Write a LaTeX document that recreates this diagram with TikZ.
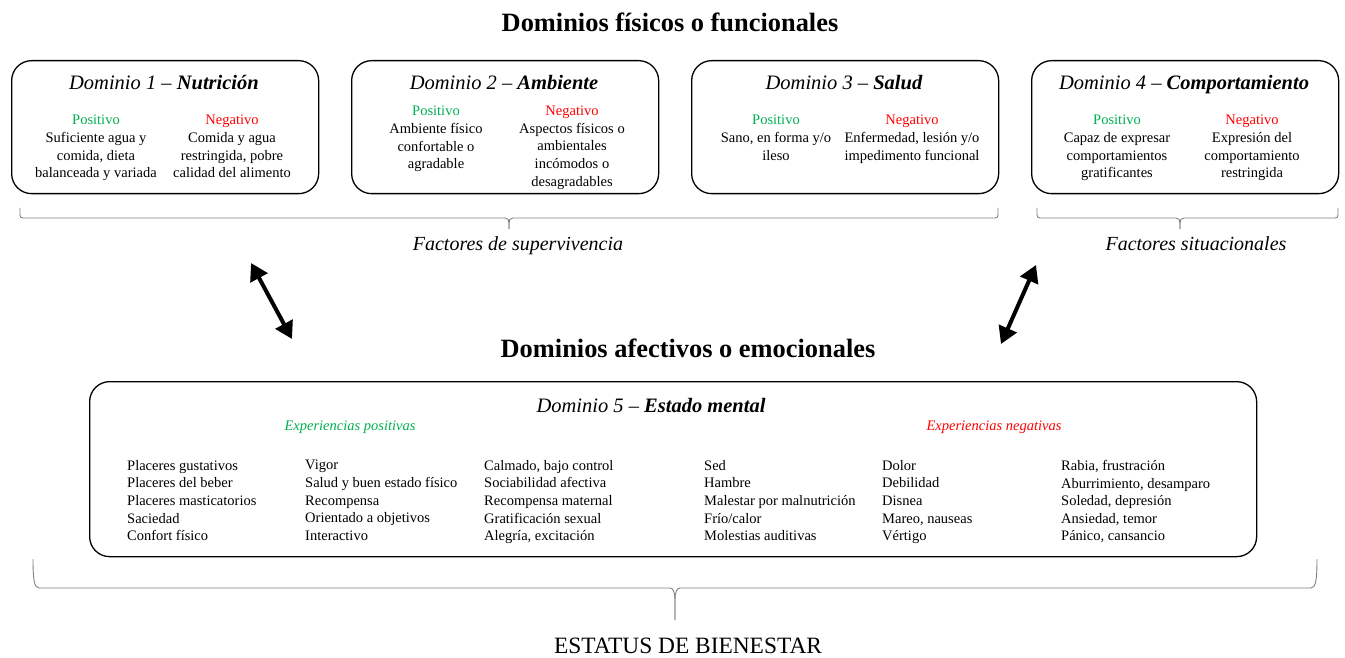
\documentclass[tikz,border=0pt]{standalone}
\usepackage{fontspec}
\setmainfont{Liberation Serif}
\usetikzlibrary{arrows.meta,positioning}
\definecolor{posgreen}{RGB}{0,176,80}
\definecolor{negred}{RGB}{255,0,0}

\begin{document}
\begin{tikzpicture}[x=1pt,y=-1pt,
    dombox/.style={draw,line width=1.3pt,rounded corners=20pt,anchor=north west,
        minimum width=307pt,minimum height=133pt},
    domhead/.style={anchor=base,font=\fontsize{20.5}{24}\selectfont\itshape},
    coltext/.style={anchor=north,align=center,inner sep=0pt,
        font=\fontsize{14.5}{17.6}\selectfont},
    listtext/.style={anchor=north west,align=left,inner sep=0pt,
        font=\fontsize{14.5}{17.6}\selectfont},
    bigtitle/.style={font=\fontsize{26.4}{30}\selectfont\bfseries},
    bracelbl/.style={anchor=base,font=\fontsize{20}{24}\selectfont\itshape},
    bline/.style={draw=gray,line width=0.9pt},
    bigarrow/.style={line width=4pt,{Triangle[length=17pt,width=19pt]}-{Triangle[length=17pt,width=19pt]}}]

    \useasboundingbox (0,0) rectangle (1345,658);

    % titulo superior
    \node[bigtitle] (titfis) at (670,22) {Dominios físicos o funcionales};

    % dominios 1 a 4
    \node[dombox] (d1) at (11,60) {};
    \node[dombox] (d2) at (351,60) {};
    \node[dombox] (d3) at (691,60) {};
    \node[dombox] (d4) at (1031,60) {};

    \node[domhead] (h1) at (164,90) {Dominio 1 -- \textbf{Nutrición}};
    \node[domhead] (h2) at (504,90) {Dominio 2 -- \textbf{Ambiente}};
    \node[domhead] (h3) at (844,90) {Dominio 3 -- \textbf{Salud}};
    \node[domhead] (h4) at (1184,90) {Dominio 4 -- \textbf{Comportamiento}};

    \node[coltext] (p1) at (96,115) {\textcolor{posgreen}{Positivo}\\Suficiente agua y\\comida, dieta\\balanceada y variada};
    \node[coltext] (n1) at (232,115) {\textcolor{negred}{Negativo}\\Comida y agua\\restringida, pobre\\calidad del alimento};
    \node[coltext] (p2) at (436,106) {\textcolor{posgreen}{Positivo}\\Ambiente físico\\confortable o\\agradable};
    \node[coltext] (n2) at (572,106) {\textcolor{negred}{Negativo}\\Aspectos físicos o\\ambientales\\incómodos o\\desagradables};
    \node[coltext] (p3) at (776,115) {\textcolor{posgreen}{Positivo}\\Sano, en forma y/o\\ileso};
    \node[coltext] (n3) at (912,115) {\textcolor{negred}{Negativo}\\Enfermedad, lesión y/o\\impedimento funcional};
    \node[coltext] (p4) at (1117,115) {\textcolor{posgreen}{Positivo}\\Capaz de expresar\\comportamientos\\gratificantes};
    \node[coltext] (n4) at (1252,115) {\textcolor{negred}{Negativo}\\Expresión del\\comportamiento\\restringida};

    % llaves de factores
    \coordinate (sup1) at (20,208);
    \coordinate (sup2) at (998,208);
    \coordinate (suptip) at (509,229);
    \coordinate (sit1) at (1037,208);
    \coordinate (sit2) at (1338,208);
    \coordinate (sittip) at (1180,229);
    \draw[bline] (sup1) -- (20,215) .. controls (20,217) and (21,218) .. (23,218) -- (505,218)
        .. controls (508,218) and (509,220) .. (509,223) -- (suptip);
    \draw[bline] (suptip) -- (509,223) .. controls (509,220) and (510,218) .. (513,218) -- (995,218)
        .. controls (997,218) and (998,217) .. (998,215) -- (sup2);
    \draw[bline] (sit1) -- (1037,215) .. controls (1037,217) and (1038,218) .. (1040,218) -- (1176,218)
        .. controls (1179,218) and (1180,220) .. (1180,223) -- (sittip);
    \draw[bline] (sittip) -- (1180,223) .. controls (1180,220) and (1181,218) .. (1184,218) -- (1335,218)
        .. controls (1337,218) and (1338,217) .. (1338,215) -- (sit2);
    \node[bracelbl] (fsup) at (518,250) {Factores de supervivencia};
    \node[bracelbl] (fsit) at (1196,250) {Factores situacionales};

    % flechas entre dominios
    \coordinate (a1) at (251,263);
    \coordinate (b1) at (292,339);
    \coordinate (a2) at (1036,265);
    \coordinate (b2) at (1001,344);
    \draw[bigarrow] (a1) -- (b1);
    \draw[bigarrow] (a2) -- (b2);

    \node[bigtitle] (titafe) at (688,348) {Dominios afectivos o emocionales};

    % dominio 5
    \node[dombox,minimum width=1167pt,minimum height=175pt] (d5) at (89,381) {};
    \node[domhead] (h5) at (651,412) {Dominio 5 -- \textbf{Estado mental}};
    \node[font=\fontsize{14.5}{17}\selectfont\itshape,text=posgreen] (expos) at (350,427) {Experiencias positivas};
    \node[font=\fontsize{14.5}{17}\selectfont\itshape,text=negred] (exneg) at (994,427) {Experiencias negativas};

    \node[listtext] (c1) at (127,460) {Placeres gustativos\\Placeres del beber\\Placeres masticatorios\\Saciedad\\Confort físico};
    \node[listtext] (c2) at (305,460) {Vigor\\Salud y buen estado físico\\Recompensa\\Orientado a objetivos\\Interactivo};
    \node[listtext] (c3) at (484,460) {Calmado, bajo control\\Sociabilidad afectiva\\Recompensa maternal\\Gratificación sexual\\Alegría, excitación};
    \node[listtext] (c4) at (704,460) {Sed\\Hambre\\Malestar por malnutrición\\Frío/calor\\Molestias auditivas};
    \node[listtext] (c5) at (882,460) {Dolor\\Debilidad\\Disnea\\Mareo, nauseas\\Vértigo};
    \node[listtext] (c6) at (1061,460) {Rabia, frustración\\Aburrimiento, desamparo\\Soledad, depresión\\Ansiedad, temor\\Pánico, cansancio};

    % llave final
    \coordinate (bien1) at (33,559);
    \coordinate (bien2) at (1317,559);
    \coordinate (bientip) at (675,620);
    \draw[bline] (bien1) .. controls (33,578) and (34,588) .. (39,588) -- (670,588)
        .. controls (673,588) and (675,592) .. (675,600) -- (bientip);
    \draw[bline] (bientip) -- (675,600) .. controls (675,592) and (677,588) .. (680,588) -- (1311,588)
        .. controls (1316,588) and (1317,578) .. (bien2);
    \node[font=\fontsize{23.4}{28}\selectfont] (estatus) at (688,646) {ESTATUS DE BIENESTAR};

\end{tikzpicture}
\end{document}
